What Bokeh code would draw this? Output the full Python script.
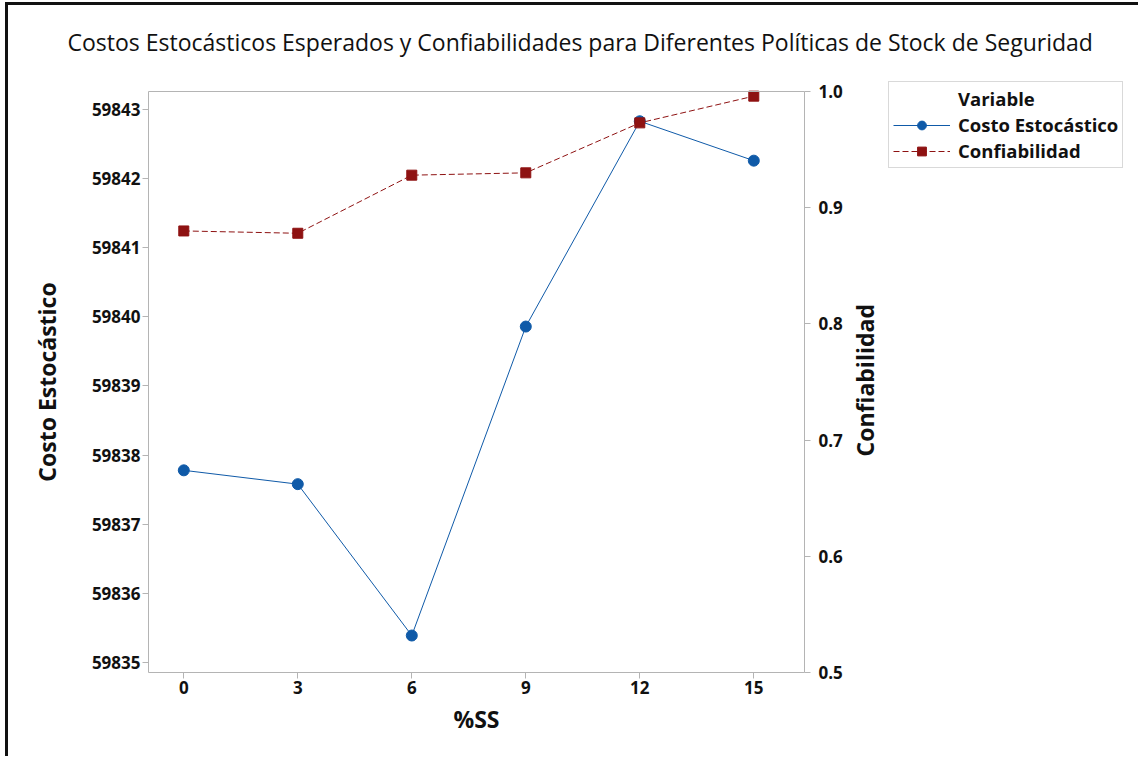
import math
from bokeh.plotting import figure
from bokeh.models import Range1d, LinearAxis, Legend, LegendItem, FixedTicker, PrintfTickFormatter
from bokeh.embed import file_html
from bokeh.resources import INLINE

# data
ss = [0, 3, 6, 9, 12, 15]
costo = [59837.78, 59837.58, 59835.39, 59839.86, 59842.83, 59842.26]
conf = [0.880, 0.878, 0.928, 0.930, 0.973, 0.996]
x_ticks = [0, 3, 6, 9, 12, 15]
y_ticks = [59835, 59836, 59837, 59838, 59839, 59840, 59841, 59842, 59843]
conf_ticks = [0.5, 0.6, 0.7, 0.8, 0.9, 1.0]

title_text = "Costos Estocásticos Esperados y Confiabilidades para Diferentes Políticas de Stock de Seguridad"

FONT = "Open Sans"
GRAY = "#b4b4b4"
BLUE = "#0f5aa8"
RED = "#8e1212"

# visible plot box (data units) and the larger drawing area around it
X_VIEW_START, X_START, X_AXIS_END, X_END = -4.297, -0.929, 16.334, 25.124
Y_BOX = (59834.855, 59843.26)
Y_VIEW = (59833.799, 59843.492)
C_BOX = (0.5, 1.0)
C_VIEW = (0.43718, 1.01377)
C_LABEL_SPAN = (0.5, 0.8718)

p = figure(width=1133, height=754, output_backend="svg", toolbar_location=None,
           x_range=Range1d(X_VIEW_START, X_END), y_range=Range1d(*Y_VIEW),
           min_border_left=12, min_border_right=3, min_border_top=70, min_border_bottom=14)

bottom_axis = p.xaxis[0]
left_axis = p.yaxis[0]

p.title.text = title_text
p.title.text_font = FONT
p.title.text_font_size = "23px"
p.title.text_font_style = "normal"
p.title.align = "left"
p.title.offset = 47
p.title.standoff = 35
p.title.text_color = "#111111"

p.extra_y_ranges = {"conf": Range1d(*C_VIEW)}
right_axis = LinearAxis(y_range_name="conf", fixed_location=X_AXIS_END, bounds=C_BOX)
p.add_layout(right_axis, "right")

label_axis = LinearAxis(y_range_name="conf", fixed_location=X_AXIS_END, bounds=C_LABEL_SPAN,
                        axis_label="Confiabilidad", ticker=FixedTicker(ticks=[]),
                        axis_line_color=None, major_tick_line_color=None, minor_tick_line_color=None,
                        major_tick_out=0, major_tick_in=0, minor_tick_out=0, minor_tick_in=0,
                        major_label_standoff=0, major_label_text_font_size="0px",
                        axis_label_standoff=60, axis_label_orientation=math.pi / 2,
                        axis_label_text_font=FONT, axis_label_text_font_size="23px",
                        axis_label_text_font_style="bold", axis_label_text_color="#111111")
p.add_layout(label_axis, "right")

top_line = LinearAxis(ticker=FixedTicker(ticks=[]), bounds=(X_START, X_AXIS_END),
                      fixed_location=Y_BOX[1],
                      major_tick_out=0, major_tick_in=0, minor_tick_out=0, minor_tick_in=0,
                      major_label_text_font_size="0px", axis_line_color=GRAY,
                      major_label_standoff=0)
p.add_layout(top_line, "above")

bottom_axis.axis_label = "%SS"
bottom_axis.bounds = (X_START, X_AXIS_END)
bottom_axis.fixed_location = Y_BOX[0]
left_axis.axis_label = "Costo Estocástico"
left_axis.bounds = Y_BOX
left_axis.fixed_location = X_START
bottom_axis.ticker = FixedTicker(ticks=x_ticks)
left_axis.ticker = FixedTicker(ticks=y_ticks)
right_axis.ticker = FixedTicker(ticks=conf_ticks)
right_axis.formatter = PrintfTickFormatter(format="%.1f")

for ax in [bottom_axis, left_axis, right_axis]:
    ax.axis_line_color = GRAY
    ax.major_tick_line_color = GRAY
    ax.major_tick_out = 6
    ax.major_tick_in = 0
    ax.minor_tick_line_color = None
    ax.major_label_text_font = FONT
    ax.major_label_text_font_size = "17px"
    ax.major_label_text_font_style = "bold"
    ax.major_label_text_color = "#111111"
    ax.axis_label_text_font = FONT
    ax.axis_label_text_font_size = "23px"
    ax.axis_label_text_font_style = "bold"
    ax.axis_label_text_color = "#111111"

left_axis.major_label_standoff = 2
left_axis.axis_label_standoff = 26
bottom_axis.major_label_standoff = 2
bottom_axis.axis_label_standoff = 6
right_axis.major_label_standoff = 8

p.xgrid.visible = False
p.ygrid.visible = False
p.outline_line_color = None
p.background_fill_color = "white"
p.border_fill_color = "white"

l1 = p.line(ss, costo, line_color=BLUE, line_width=1)
s1 = p.scatter(ss, costo, marker="circle", size=11, fill_color=BLUE, line_color=BLUE)
l2 = p.line(ss, conf, y_range_name="conf", line_color=RED, line_width=1, line_dash="6 3")
s2 = p.scatter(ss, conf, y_range_name="conf", marker="square", size=10, fill_color=RED, line_color=RED)
dummy = p.scatter([], [], marker="circle", size=0, alpha=0)

legend = Legend(items=[LegendItem(label="Variable", renderers=[dummy]),
                       LegendItem(label="Costo Estocástico", renderers=[l1, s1]),
                       LegendItem(label="Confiabilidad", renderers=[l2, s2])],
                location=(868, 577))
legend.margin = 0
legend.label_text_font = FONT
legend.label_text_font_size = "18.5px"
legend.label_text_font_style = "bold"
legend.label_text_color = "#111111"
legend.glyph_width = 57
legend.glyph_height = 22
legend.label_height = 22
legend.label_standoff = 8
legend.spacing = 1
legend.padding = 4
legend.border_line_color = GRAY
legend.background_fill_alpha = 1
p.add_layout(legend, "center")

p.styles = {"border-left": "3px solid #111111", "border-top": "3px solid #111111",
            "margin-left": "5px", "margin-top": "2px"}

open("out.html", "w").write(file_html(p, INLINE))
